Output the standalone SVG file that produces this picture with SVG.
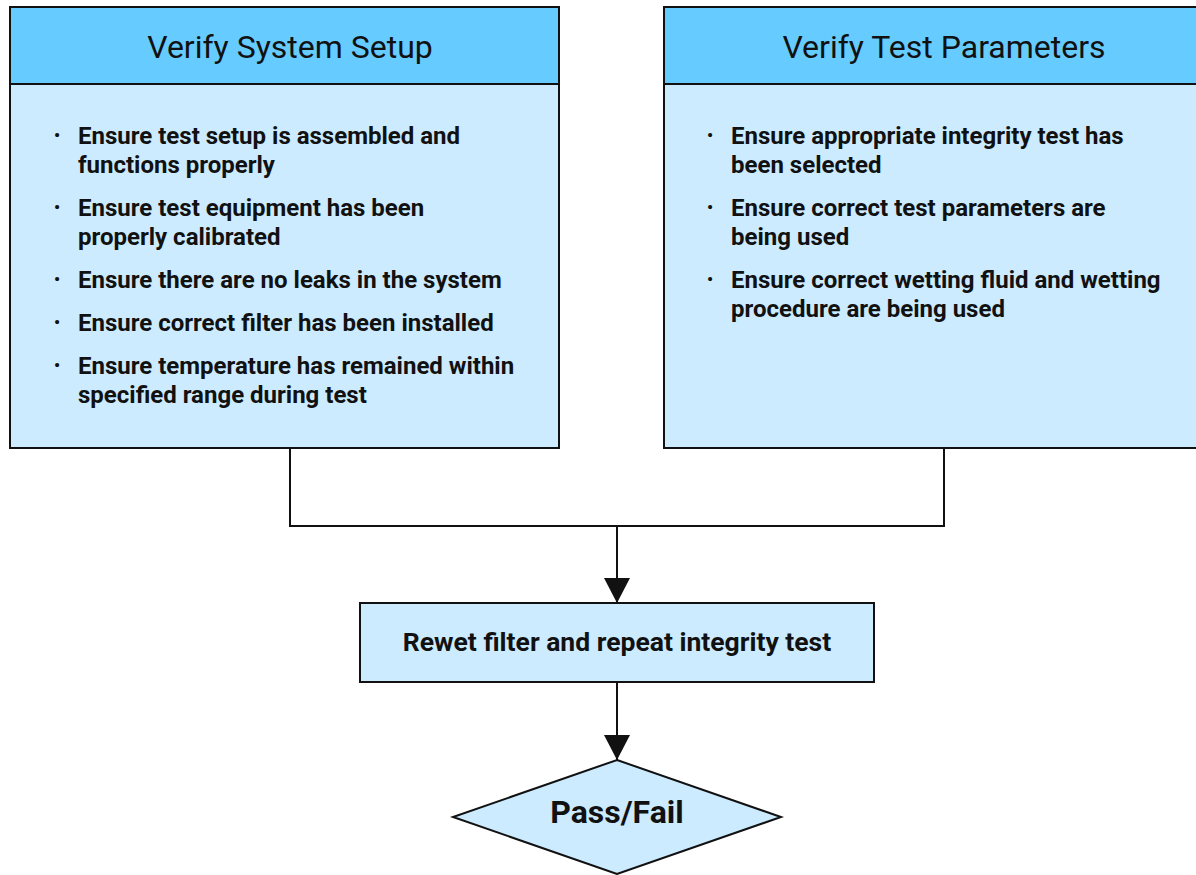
<svg xmlns="http://www.w3.org/2000/svg" width="1196" height="875" viewBox="0 0 1196 875">
<style>
.hdr{fill:#66CCFF;stroke:#111;stroke-width:2}
.body{fill:#CCEBFF;stroke:#111;stroke-width:2}
.title{font-family:Roboto,"Liberation Sans",sans-serif;font-size:32px;fill:#111;text-anchor:middle}
.item{font-family:Roboto,"Liberation Sans",sans-serif;font-size:24px;font-weight:bold;fill:#111}
.bul{font-family:Roboto,"Liberation Sans",sans-serif;font-size:17px;font-weight:bold;fill:#111;text-anchor:middle}
.conn{fill:none;stroke:#111;stroke-width:2}
.lbl{font-family:Roboto,"Liberation Sans",sans-serif;font-weight:bold;fill:#111;text-anchor:middle}
</style>
<defs>
<marker id="ah" viewBox="0 0 25 26" refX="25" refY="13" markerWidth="25" markerHeight="26" orient="auto" markerUnits="userSpaceOnUse">
<path d="M0,0 L25,13 L0,26 Z" fill="#111"/>
</marker>
</defs>
<rect width="1196" height="875" fill="#fff"/>
<g id="connectors">
<polyline class="conn" points="290,448 290,526 944,526 944,448"/>
<line class="conn" x1="617" y1="526" x2="617" y2="603" marker-end="url(#ah)"/>
<line class="conn" x1="617" y1="682" x2="617" y2="760" marker-end="url(#ah)"/>
</g>
<g id="verify-system-setup">
<rect class="body" x="10" y="84" width="549" height="364"/>
<rect class="hdr" x="10" y="7" width="549" height="77"/>
<text class="title" x="290" y="58">Verify System Setup</text>
<g class="bul">
<text x="57" y="141">•</text>
<text x="57" y="213">•</text>
<text x="57" y="285">•</text>
<text x="57" y="328">•</text>
<text x="57" y="371">•</text>
</g>
<g class="item">
<text x="78" y="144">Ensure test setup is assembled and</text>
<text x="78" y="173">functions properly</text>
<text x="78" y="216">Ensure test equipment has been</text>
<text x="78" y="245">properly calibrated</text>
<text x="78" y="288">Ensure there are no leaks in the system</text>
<text x="78" y="331">Ensure correct filter has been installed</text>
<text x="78" y="374">Ensure temperature has remained within</text>
<text x="78" y="403">specified range during test</text>
</g>
</g>
<g id="verify-test-parameters">
<rect class="body" x="664" y="84" width="560" height="364"/>
<rect class="hdr" x="664" y="7" width="560" height="77"/>
<text class="title" x="944" y="58">Verify Test Parameters</text>
<g class="bul">
<text x="710" y="141">•</text>
<text x="710" y="213">•</text>
<text x="710" y="285">•</text>
</g>
<g class="item">
<text x="731" y="144">Ensure appropriate integrity test has</text>
<text x="731" y="173">been selected</text>
<text x="731" y="216">Ensure correct test parameters are</text>
<text x="731" y="245">being used</text>
<text x="731" y="288">Ensure correct wetting fluid and wetting</text>
<text x="731" y="317">procedure are being used</text>
</g>
</g>
<g id="rewet">
<rect class="body" x="360" y="603" width="514" height="79"/>
<text class="lbl" x="617" y="651" font-size="26.5">Rewet filter and repeat integrity test</text>
</g>
<g id="pass-fail">
<polygon class="body" points="617,760 781,817 617,874 453,817"/>
<text class="lbl" x="617" y="823" font-size="32">Pass/Fail</text>
</g>
</svg>
